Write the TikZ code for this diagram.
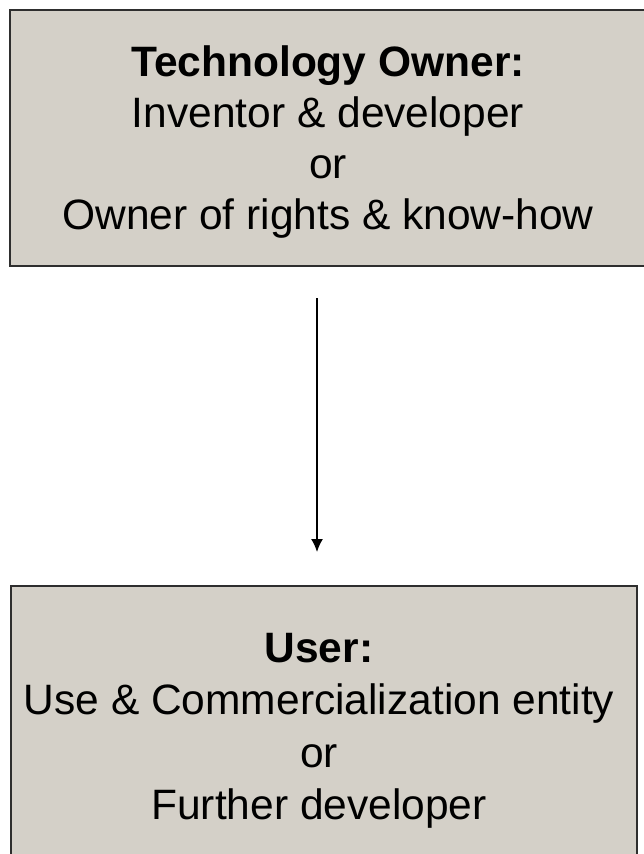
\documentclass[tikz,border=0pt]{standalone}
\usepackage{fontspec}
\setmainfont{Liberation Sans}
\usetikzlibrary{arrows.meta}
\definecolor{boxgray}{HTML}{D4D0C8}
\definecolor{edgegray}{HTML}{2E2E2E}

\begin{document}
\begin{tikzpicture}[x=1pt,y=-1pt,
		party/.style={draw=edgegray, line width=2pt, fill=boxgray, rectangle, inner sep=0pt},
		partytext/.style={align=center, font=\fontsize{42.5}{51}\selectfont, text=black, inner sep=0pt}]
		\clip (0,0) rectangle (644,854);
		\fill[white] (0,0) rectangle (644,854);
		\node[party, minimum width=636pt, minimum height=256pt] (owner) at (328,138) {};
		\node[party, minimum width=626pt, minimum height=280pt] (user) at (324,726) {};
		\node[partytext] (ownertext) at (328,142) {\textbf{Technology Owner:}\\Inventor \& developer\\or\\Owner of rights \& know-how};
		\node[partytext, font=\fontsize{42.5}{52.5}\selectfont] (usertext) at (319,731) {\textbf{User:}\\Use \& Commercialization entity\\or\\Further developer};
		\draw[black, line width=1.5pt, -{Latex[length=13pt,width=12pt]}, shorten <=31pt, shorten >=33pt] ([xshift=-11pt]owner.south) -- ([xshift=-7pt]user.north);
	\end{tikzpicture}
\end{document}
